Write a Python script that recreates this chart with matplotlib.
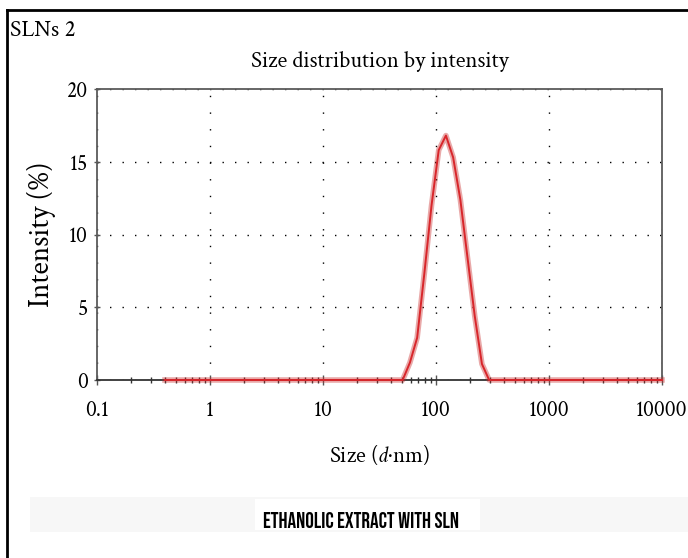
import matplotlib
matplotlib.use('agg')
import matplotlib.pyplot as plt
from matplotlib.lines import Line2D
from matplotlib.patches import Rectangle
from matplotlib.ticker import LogLocator, NullFormatter

# DLS intensity distribution (Zetasizer size bins, nm)
size_nm = [0.4, 50.7, 58.8, 68.1, 78.8, 91.3, 105.7, 122.4, 141.8,
           164.2, 190.1, 220.2, 255.0, 295.3, 10000]
intensity = [0, 0, 1.2, 2.9, 7.3, 12.0, 15.8, 16.8, 15.3,
             12.4, 8.4, 4.4, 1.1, 0, 0]

x_ticks = [0.1, 1, 10, 100, 1000, 10000]
x_labels = ['0.1', '1', '10', '100', '1000', '10000']
y_ticks = [0, 5, 10, 15, 20]

W, H = 688, 558
plt.rcParams['font.family'] = ['Crimson Text', 'Liberation Serif', 'DejaVu Serif']
plt.rcParams['mathtext.fontset'] = 'custom'
plt.rcParams['mathtext.it'] = 'Crimson Text:italic'

fig = plt.figure(figsize=(W / 100, H / 100), dpi=100)
ax = fig.add_axes([97 / W, 1 - 380 / H, 565 / W, 291 / H])


def px(x, y):
    return x / W, 1 - y / H


# light band behind the caption
fig.patches.append(Rectangle(px(30, 532), 658 / W, 35 / H, transform=fig.transFigure,
                             facecolor='#f7f7f7', edgecolor='none', zorder=0))
fig.patches.append(Rectangle(px(255, 530), 225 / W, 31 / H, transform=fig.transFigure,
                             facecolor='white', edgecolor='none', zorder=0))

# halo + line
ax.plot(size_nm, intensity, color='#c82a2a', lw=4.0, alpha=0.4, zorder=4,
        solid_joinstyle='round', clip_on=False)
ax.plot(size_nm, intensity, color='#d8262b', lw=1.4, zorder=5, clip_on=False)

ax.set_xscale('log')
ax.set_xlim(0.1, 10000)
ax.set_ylim(0, 20)
ax.set_xticks(x_ticks)
ax.set_xticklabels(x_labels)
ax.xaxis.set_minor_locator(LogLocator(base=10, subs=range(2, 10), numticks=20))
ax.xaxis.set_minor_formatter(NullFormatter())
ax.set_yticks(y_ticks)

for s in ax.spines.values():
    s.set_color('#5a5a5a')
    s.set_linewidth(1.3)
ax.spines['bottom'].set_color('#333333')

ax.grid(True, axis='x', which='major', color='black', lw=1.0, linestyle=(0, (1, 11)))
ax.grid(True, axis='y', which='major', color='black', lw=1.0, linestyle=(0, (1, 8)))
ax.set_axisbelow(True)

ax.tick_params(axis='x', which='major', direction='inout', length=7, width=1,
               color='#555555', labelsize=15.5, pad=11)
ax.tick_params(axis='x', which='minor', direction='inout', length=5, width=1,
               color='#333333')
ax.tick_params(axis='y', which='major', direction='inout', length=5, width=1,
               color='#555555', labelsize=15.5, pad=4)

ax.set_title('Size distribution by intensity', fontsize=16.5, pad=16)
ax.set_xlabel('Size ($d$·nm)', fontsize=16.5, labelpad=16)
ax.set_ylabel('Intensity (%)', fontsize=21, labelpad=8)

fig.text(*px(10, 30), 'SLNs 2', fontsize=17, ha='left', va='center')
fig.text(*px(361, 520), 'ETHANOLIC EXTRACT WITH SLN', fontsize=15.5,
         family=['Bebas Neue', 'Oswald', 'DejaVu Sans'], ha='center', va='center')

# frame lines at the top and left edge
fig.add_artist(Line2D([7 / W, 1], [1 - 10 / H] * 2, transform=fig.transFigure,
                      color='black', lw=2))
fig.add_artist(Line2D([7 / W] * 2, [0, 1 - 10 / H], transform=fig.transFigure,
                      color='black', lw=2))

fig.savefig('out.png', dpi=100)
